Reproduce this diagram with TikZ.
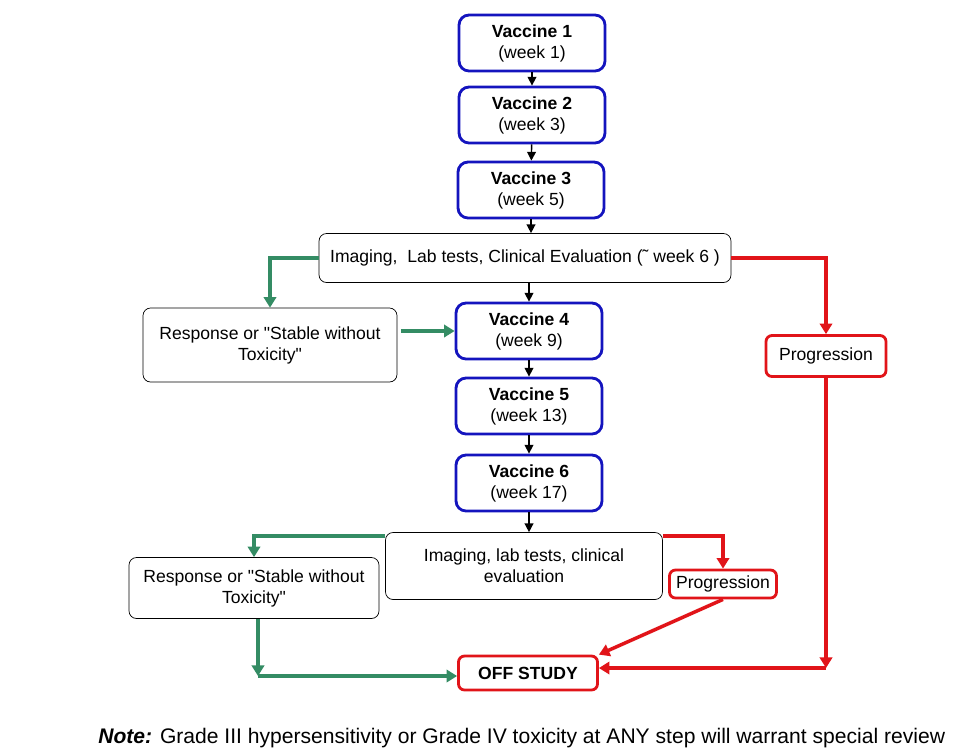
\documentclass[tikz,border=0pt]{standalone}
\usepackage{fontspec}
\setmainfont{Liberation Sans}
\usetikzlibrary{arrows.meta, positioning, calc}
\definecolor{vaxblue}{RGB}{20, 20, 190}
\definecolor{goodgreen}{RGB}{52, 140, 100}
\definecolor{badred}{RGB}{225, 20, 25}

\begin{document}
\begin{tikzpicture}[
    x=0.02cm, y=-0.02cm,
    vaxstep/.style={draw=vaxblue, line width=1.6pt, rounded corners=0.2cm, minimum width=2.92cm, minimum height=1.12cm, align=center, font=\normalsize, inner sep=1pt},
    evalbox/.style={draw, rounded corners=0.15cm, align=center, font=\normalsize, inner sep=1pt},
    progbox/.style={draw=badred, line width=1.6pt, rounded corners=0.12cm, align=center, font=\normalsize, inner sep=1pt},
    arrow/.style={-{Triangle[length=5pt, width=5pt]}, thick},
    garrow/.style={-{Triangle[length=6pt, width=7pt]}, line width=2pt, draw=goodgreen},
    rarrow/.style={-{Triangle[length=6pt, width=7pt]}, line width=2pt, draw=badred}
]
    \useasboundingbox (0,0) rectangle (959,755);

    % Vaccines
    \node[vaxstep] (vac1) at (532,43) {\textbf{Vaccine 1}\\(week 1)};
    \node[vaxstep] (vac2) at (532,115) {\textbf{Vaccine 2}\\(week 3)};
    \node[vaxstep] (vac3) at (531,190) {\textbf{Vaccine 3}\\(week 5)};

    % First evaluation
    \node[evalbox, minimum width=8.24cm, minimum height=0.98cm] (img1) at (525,258) {Imaging,\ \ Lab tests, Clinical Evaluation (˜ week 6 )};

    \node[evalbox, minimum width=5.08cm, minimum height=1.48cm] (resp1) at (270,345) {Response or \textquotedbl Stable without\\Toxicity\textquotedbl};
    \node[progbox, minimum width=2.4cm, minimum height=0.82cm] (prog1) at (826,356) {Progression};

    \node[vaxstep] (vac4) at (529,331) {\textbf{Vaccine 4}\\(week 9)};
    \node[vaxstep] (vac5) at (529,406) {\textbf{Vaccine 5}\\(week 13)};
    \node[vaxstep] (vac6) at (529,483) {\textbf{Vaccine 6}\\(week 17)};

    % Second evaluation
    \node[evalbox, minimum width=5.54cm, minimum height=1.34cm] (img2) at (524,566) {Imaging, lab tests, clinical\\evaluation};
    \node[evalbox, minimum width=5cm, minimum height=1.22cm] (resp2) at (254,588) {Response or \textquotedbl Stable without\\Toxicity\textquotedbl};
    \node[progbox, minimum width=2.14cm, minimum height=0.56cm] (prog2) at (723,584) {Progression};

    \node[progbox, minimum width=2.78cm, minimum height=0.68cm, font=\normalsize\bfseries] (off) at (528,673) {OFF STUDY};

    % Note
    \node[anchor=west, font=\fontsize{12}{14}\selectfont, inner sep=0pt] (note) at (98,738) {\textbf{\textit{Note:}} Grade III hypersensitivity or Grade IV toxicity at ANY step will warrant special review};

    \coordinate (gturn) at (258,676);
    \coordinate (rturn) at (826,668);

    % Arrows
    \draw[arrow] (vac1) -- (vac2);
    \draw[arrow] (vac2) -- (vac3);
    \draw[arrow] (vac3.south) -- (vac3.south |- img1.north);
    \draw[arrow] (vac4.north |- img1.south) -- (vac4.north);
    \draw[arrow] (vac4) -- (vac5);
    \draw[arrow] (vac5) -- (vac6);
    \draw[arrow] (vac6.south) -- (vac6.south |- img2.north);

    \draw[garrow] (img1.west) -| (resp1.north);
    \draw[garrow, shorten <=2pt] (resp1.east |- vac4.west) -- (vac4.west);
    \draw[rarrow] (img1.east) -| (prog1.north);
    \draw[rarrow] (prog1.south) -- (rturn);
    \draw[rarrow] (rturn) -- (off.east |- rturn);

    \draw[garrow] ([yshift=-0.08cm]img2.north west) -| (resp2.north);
    \draw[garrow] (resp2.south -| gturn) -- (gturn);
    \draw[garrow] (gturn) -- (off.west |- gturn);
    \draw[rarrow] ([yshift=-0.08cm]img2.north east) -| (prog2.north);
    \draw[rarrow] (prog2.south) -- (off.north east);
\end{tikzpicture}
\end{document}
